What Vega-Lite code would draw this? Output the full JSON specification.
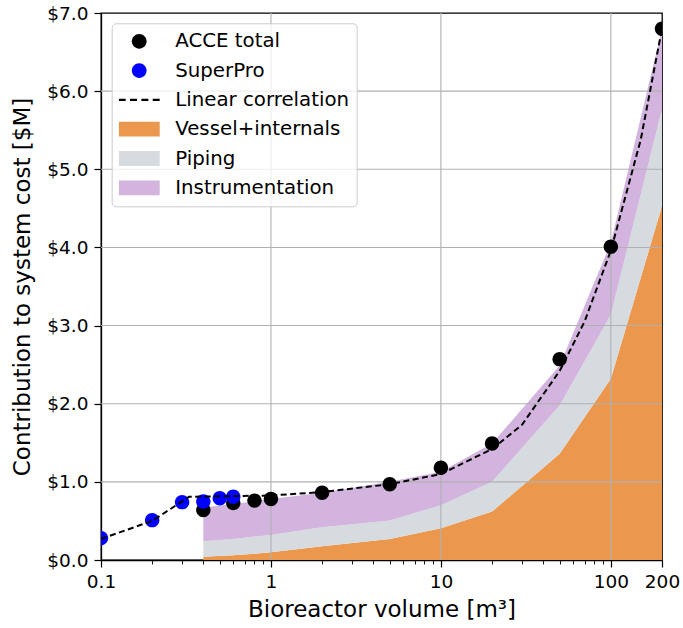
{
  "$schema": "https://vega.github.io/schema/vega-lite/v6.json",
  "width": 561,
  "height": 547,
  "autosize": {"type": "none"},
  "padding": {"left": 101, "top": 13, "right": 21, "bottom": 68},
  "background": "white",
  "config": {
    "font": "DejaVu Sans",
    "view": {"stroke": "black", "strokeWidth": 1.3},
    "axis": {
      "labelFont": "DejaVu Sans", "labelFontSize": 18.5, "labelColor": "black",
      "titleFont": "DejaVu Sans", "titleFontSize": 23, "titleFontWeight": "normal", "titleColor": "black",
      "tickColor": "black", "domainColor": "black", "domainWidth": 1.3, "grid": false
    },
    "legend": {
      "title": null,
      "orient": "none",
      "direction": "vertical",
      "legendX": 10.7,
      "legendY": 10.3,
      "padding": 7,
      "clipHeight": 22,
      "rowPadding": 7.3,
      "symbolSize": 1681,
      "symbolStrokeWidth": 0,
      "symbolOffset": 0,
      "symbolOpacity": 1,
      "labelOffset": 15.5,
      "labelFont": "DejaVu Sans",
      "labelFontSize": 19.8,
      "labelColor": "black",
      "labelLimit": 400,
      "fillColor": "rgba(255,255,255,0.8)",
      "strokeColor": "#cccccc",
      "cornerRadius": 4
    }
  },
  "datasets": {
    "stack": [
      {"volume": 0.4, "cost": 0.04, "series": "Vessel+internals"},
      {"volume": 0.6, "cost": 0.06, "series": "Vessel+internals"},
      {"volume": 0.8, "cost": 0.08, "series": "Vessel+internals"},
      {"volume": 1, "cost": 0.10, "series": "Vessel+internals"},
      {"volume": 2, "cost": 0.175, "series": "Vessel+internals"},
      {"volume": 5, "cost": 0.27, "series": "Vessel+internals"},
      {"volume": 10, "cost": 0.405, "series": "Vessel+internals"},
      {"volume": 20, "cost": 0.62, "series": "Vessel+internals"},
      {"volume": 50, "cost": 1.36, "series": "Vessel+internals"},
      {"volume": 100, "cost": 2.32, "series": "Vessel+internals"},
      {"volume": 200, "cost": 4.53, "series": "Vessel+internals"},
      {"volume": 0.4, "cost": 0.20, "series": "Piping"},
      {"volume": 0.6, "cost": 0.21, "series": "Piping"},
      {"volume": 0.8, "cost": 0.22, "series": "Piping"},
      {"volume": 1, "cost": 0.22, "series": "Piping"},
      {"volume": 2, "cost": 0.245, "series": "Piping"},
      {"volume": 5, "cost": 0.235, "series": "Piping"},
      {"volume": 10, "cost": 0.295, "series": "Piping"},
      {"volume": 20, "cost": 0.38, "series": "Piping"},
      {"volume": 50, "cost": 0.62, "series": "Piping"},
      {"volume": 100, "cost": 0.82, "series": "Piping"},
      {"volume": 200, "cost": 1.24, "series": "Piping"},
      {"volume": 0.4, "cost": 0.43, "series": "Instrumentation"},
      {"volume": 0.6, "cost": 0.45, "series": "Instrumentation"},
      {"volume": 0.8, "cost": 0.45, "series": "Instrumentation"},
      {"volume": 1, "cost": 0.46, "series": "Instrumentation"},
      {"volume": 2, "cost": 0.44, "series": "Instrumentation"},
      {"volume": 5, "cost": 0.495, "series": "Instrumentation"},
      {"volume": 10, "cost": 0.43, "series": "Instrumentation"},
      {"volume": 20, "cost": 0.49, "series": "Instrumentation"},
      {"volume": 50, "cost": 0.51, "series": "Instrumentation"},
      {"volume": 100, "cost": 0.92, "series": "Instrumentation"},
      {"volume": 200, "cost": 1.03, "series": "Instrumentation"}
    ],
    "points": [
      {"volume": 0.4, "cost": 0.64, "series": "ACCE total"},
      {"volume": 0.6, "cost": 0.73, "series": "ACCE total"},
      {"volume": 0.8, "cost": 0.76, "series": "ACCE total"},
      {"volume": 1, "cost": 0.78, "series": "ACCE total"},
      {"volume": 2, "cost": 0.86, "series": "ACCE total"},
      {"volume": 5, "cost": 0.97, "series": "ACCE total"},
      {"volume": 10, "cost": 1.18, "series": "ACCE total"},
      {"volume": 20, "cost": 1.49, "series": "ACCE total"},
      {"volume": 50, "cost": 2.57, "series": "ACCE total"},
      {"volume": 100, "cost": 4.01, "series": "ACCE total"},
      {"volume": 200, "cost": 6.80, "series": "ACCE total"},
      {"volume": 0.1, "cost": 0.28, "series": "SuperPro"},
      {"volume": 0.2, "cost": 0.51, "series": "SuperPro"},
      {"volume": 0.3, "cost": 0.74, "series": "SuperPro"},
      {"volume": 0.4, "cost": 0.75, "series": "SuperPro"},
      {"volume": 0.5, "cost": 0.79, "series": "SuperPro"},
      {"volume": 0.6, "cost": 0.81, "series": "SuperPro"}
    ],
    "corr": [
      {"volume": 0.1, "cost": 0.27, "series": "Linear correlation"},
      {"volume": 0.2, "cost": 0.50, "series": "Linear correlation"},
      {"volume": 0.3, "cost": 0.75, "series": "Linear correlation"},
      {"volume": 0.33, "cost": 0.81, "series": "Linear correlation"},
      {"volume": 0.5, "cost": 0.815, "series": "Linear correlation"},
      {"volume": 1, "cost": 0.825, "series": "Linear correlation"},
      {"volume": 2, "cost": 0.87, "series": "Linear correlation"},
      {"volume": 5, "cost": 0.97, "series": "Linear correlation"},
      {"volume": 10, "cost": 1.10, "series": "Linear correlation"},
      {"volume": 20, "cost": 1.42, "series": "Linear correlation"},
      {"volume": 30, "cost": 1.73, "series": "Linear correlation"},
      {"volume": 50, "cost": 2.42, "series": "Linear correlation"},
      {"volume": 70, "cost": 3.05, "series": "Linear correlation"},
      {"volume": 100, "cost": 3.96, "series": "Linear correlation"},
      {"volume": 150, "cost": 5.38, "series": "Linear correlation"},
      {"volume": 200, "cost": 6.80, "series": "Linear correlation"}
    ],
    "gridx": [{"v": 1}, {"v": 10}, {"v": 100}],
    "gridy": [{"v": 1}, {"v": 2}, {"v": 3}, {"v": 4}, {"v": 5}, {"v": 6}]
  },
  "layer": [
    {
      "data": {"name": "stack"},
      "mark": {"type": "area", "interpolate": "linear", "opacity": 1},
      "encoding": {
        "x": {
          "field": "volume", "type": "quantitative",
          "scale": {"type": "log", "domain": [0.1, 200], "nice": false},
          "axis": {
            "title": "Bioreactor volume [m³]",
            "values": [0.1, 0.2, 0.3, 0.4, 0.5, 0.6, 0.7, 0.8, 0.9, 1, 2, 3, 4, 5, 6, 7, 8, 9, 10, 20, 30, 40, 50, 60, 70, 80, 90, 100, 200],
            "format": "~g",
            "labelExpr": "indexof([0.1, 1, 10, 100, 200], datum.value) >= 0 ? datum.label : ''",
            "labelOverlap": false, "labelBound": false, "labelFlush": false,
            "labelPadding": 5,
            "tickSize": {"condition": {"test": "indexof([0.1, 1, 10, 100, 200], datum.value) >= 0", "value": 7}, "value": 4},
            "tickWidth": {"condition": {"test": "indexof([0.1, 1, 10, 100, 200], datum.value) >= 0", "value": 1.2}, "value": 0.9},
            "titlePadding": 8
          }
        },
        "y": {
          "field": "cost", "type": "quantitative", "stack": "zero",
          "scale": {"domain": [0, 7], "nice": false},
          "axis": {
            "title": "Contribution to system cost [$M]",
            "values": [0, 1, 2, 3, 4, 5, 6, 7],
            "format": "$.1f",
            "tickSize": 7, "tickWidth": 1.2, "labelPadding": 6, "titlePadding": 12
          }
        },
        "order": {"field": "series", "sort": "descending"},
        "color": {
          "field": "series", "type": "nominal",
          "scale": {
            "domain": ["ACCE total", "SuperPro", "Linear correlation", "Vessel+internals", "Piping", "Instrumentation"],
            "range": ["black", "#0000ff", "black", "#EB984E", "#D6DBDF", "#D2B4DE"]
          },
          "legend": {"title": null}
        }
      }
    },
    {
      "data": {"name": "gridx"},
      "mark": {"type": "rule", "color": "#b0b0b0", "strokeWidth": 1.1},
      "encoding": {
        "x": {"field": "v", "type": "quantitative"}
      }
    },
    {
      "data": {"name": "gridy"},
      "mark": {"type": "rule", "color": "#b0b0b0", "strokeWidth": 1.1},
      "encoding": {
        "y": {"field": "v", "type": "quantitative"}
      }
    },
    {
      "data": {"name": "points"},
      "mark": {"type": "point", "filled": true, "size": 1600, "opacity": 1, "strokeWidth": 0, "clip": true},
      "encoding": {
        "x": {"field": "volume", "type": "quantitative"},
        "y": {"field": "cost", "type": "quantitative"},
        "color": {"field": "series", "type": "nominal", "legend": {"title": null}},
        "shape": {
          "field": "series", "type": "nominal",
          "scale": {
            "domain": ["ACCE total", "SuperPro", "Linear correlation", "Vessel+internals", "Piping", "Instrumentation"],
            "range": [
              "M-0.36,0A0.36,0.36,0,1,1,0.36,0A0.36,0.36,0,1,1,-0.36,0Z",
              "M-0.36,0A0.36,0.36,0,1,1,0.36,0A0.36,0.36,0,1,1,-0.36,0Z",
              "M-1,-0.05H-0.66V0.05H-1Z M-0.447,-0.05H-0.107V0.05H-0.447Z M0.107,-0.05H0.447V0.05H0.107Z M0.66,-0.05H1V0.05H0.66Z",
              "M-1,-0.36H1V0.36H-1Z",
              "M-1,-0.36H1V0.36H-1Z",
              "M-1,-0.36H1V0.36H-1Z"
            ]
          },
          "legend": {"title": null}
        }
      }
    },
    {
      "data": {"name": "corr"},
      "mark": {"type": "line", "strokeDash": [6, 3.5], "strokeWidth": 2, "color": "black", "clip": true},
      "encoding": {
        "x": {"field": "volume", "type": "quantitative"},
        "y": {"field": "cost", "type": "quantitative"},
        "color": {"field": "series", "type": "nominal", "legend": {"title": null}}
      }
    }
  ]
}
